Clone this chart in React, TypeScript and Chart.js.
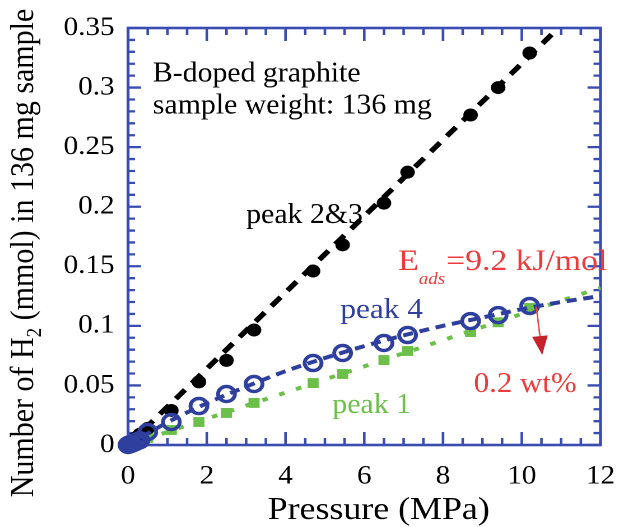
import React, { useEffect, useRef } from 'react';
import { Chart, registerables } from 'chart.js';

Chart.register(...registerables);

// ---------- data ----------
const pressure = [0, 0.05, 0.1, 0.2, 0.3, 0.5, 1.1, 1.8, 2.5, 3.2, 4.7, 5.45, 6.5, 7.1, 8.7, 9.4, 10.2];
const peak23 = [0, 0.0015, 0.003, 0.006, 0.009, 0.014, 0.029, 0.053, 0.071, 0.0965, 0.146, 0.168, 0.203, 0.229, 0.277, 0.3, 0.329];
const peak4 = [0, 0.0006, 0.0012, 0.0025, 0.004, 0.0109, 0.0193, 0.0327, 0.0428, 0.0512, 0.0688, 0.0772, 0.0856, 0.0923, 0.104, 0.109, 0.1167];
const peak1 = [0, 0.0005, 0.001, 0.002, 0.003, 0.006, 0.0126, 0.0193, 0.0269, 0.0353, 0.052, 0.0596, 0.0713, 0.0789, 0.0948, 0.103, 0.115];

const fitPressure = [0, 1, 2, 3, 4, 5, 6, 7, 8, 9, 10, 11, 12];
const fitPeak4 = [0, 0.019, 0.035, 0.049, 0.062, 0.073, 0.083, 0.092, 0.1, 0.107, 0.114, 0.12, 0.125];
const fitPeak1 = [0, 0.011, 0.022, 0.033, 0.044, 0.055, 0.066, 0.077, 0.088, 0.099, 0.11, 0.121, 0.132];
const fitPeak23Pressure = [0, 10.9];
const fitPeak23 = [0, 0.349];

const xTickValues = [0, 2, 4, 6, 8, 10, 12];
const xTickLabels = ['0', '2', '4', '6', '8', '10', '12'];
const yTickValues = [0, 0.05, 0.1, 0.15, 0.2, 0.25, 0.3, 0.35];
const yTickLabels = ['0', '0.05', '0.1', '0.15', '0.2', '0.25', '0.3', '0.35'];

const xTitle = 'Pressure (MPa)';
const yTitleParts = ['Number of H', '2', ' (mmol) in 136 mg sample'];

// ---------- styles ----------
const FONT = '"Liberation Serif", serif';
const STRETCH = 1.12;
const W = 633;
const H = 527;
const IW = Math.round(W / STRETCH);
const BLUE = '#2f3f9e';
const FRAME = '#3a4cb0';
const GREEN = '#6cc04a';
const BLACK = '#000000';
const RED = '#ee3a3a';
const DARKRED = '#c8222a';

Chart.defaults.font.family = FONT;

const toXY = (xs: number[], ys: number[]) => xs.map((x, i) => ({ x, y: ys[i] }));

// draw text with an extra horizontal squeeze factor k
const drawText = (ctx: any, text: string, x: number, y: number, font: string, color: string, k = 1) => {
  ctx.save();
  ctx.translate(x, y);
  ctx.scale(k, 1);
  ctx.font = font;
  ctx.fillStyle = color;
  ctx.textAlign = 'left';
  ctx.textBaseline = 'alphabetic';
  ctx.fillText(text, 0, 0);
  const w = ctx.measureText(text).width * k;
  ctx.restore();
  return w;
};

const framePlugin = {
  id: 'frame',
  beforeDatasetsDraw(chart: any) {
    const { ctx, chartArea: a, scales } = chart;
    const xs = scales.x;
    const ys = scales.y;
    ctx.save();
    ctx.strokeStyle = FRAME;
    ctx.lineWidth = 2.6;
    ctx.strokeRect(a.left, a.top, a.right - a.left, a.bottom - a.top);
    ctx.lineWidth = 2.3;
    ctx.beginPath();
    for (let i = 0; i <= 24; i++) {
      const v = i * 0.5;
      const px = xs.getPixelForValue(v);
      const len = i % 4 === 0 ? 13 : 7;
      ctx.moveTo(px, a.bottom);
      ctx.lineTo(px, a.bottom - len);
      ctx.moveTo(px, a.top);
      ctx.lineTo(px, a.top + len);
    }
    for (let i = 0; i <= 35; i++) {
      const v = i * 0.01;
      const py = ys.getPixelForValue(v);
      const len = (i % 5 === 0 ? 13 : 7) / STRETCH;
      ctx.moveTo(a.left, py);
      ctx.lineTo(a.left + len, py);
      ctx.moveTo(a.right, py);
      ctx.lineTo(a.right - len, py);
    }
    ctx.stroke();
    ctx.restore();
  },
};

const textPlugin = {
  id: 'texts',
  afterDatasetsDraw(chart: any) {
    const { ctx, scales } = chart;
    const X = (v: number) => scales.x.getPixelForValue(v);
    const Y = (v: number) => scales.y.getPixelForValue(v);
    const f28 = `28px ${FONT}`;

    drawText(ctx, 'B-doped graphite', X(0.63), Y(0.305), f28, BLACK, 0.95);
    drawText(ctx, 'sample weight: 136 mg', X(0.63), Y(0.2783), f28, BLACK, 0.95);
    drawText(ctx, 'peak 2&3', X(3.0), Y(0.1865), f28, BLACK, 0.95);
    drawText(ctx, 'peak 4', X(5.39), Y(0.1066), f28, BLUE, 1);
    drawText(ctx, 'peak 1', X(5.19), Y(0.0269), f28, GREEN, 0.95);

    // E_ads = 9.2 kJ/mol
    let ex = X(6.86);
    const ey = Y(0.1469);
    ex += drawText(ctx, 'E', ex, ey, `30px ${FONT}`, RED, 1);
    ex += drawText(ctx, 'ads', ex, ey + 14, `italic 17px ${FONT}`, RED, 1) + 1;
    drawText(ctx, '=9.2 kJ/mol', ex, ey, `30px ${FONT}`, RED, 1);

    drawText(ctx, '0.2 wt%', X(8.78), Y(0.0445), `29px ${FONT}`, RED, 0.95);

    // arrow
    ctx.save();
    const tx = X(10.37), ty = Y(0.1158);
    const hx = X(10.52), hy = Y(0.0755);
    const dx = hx - tx, dy = hy - ty;
    const L = Math.hypot(dx, dy);
    const ux = dx / L, uy = dy / L;
    const headLen = 19;
    const bx = hx - ux * headLen, by = hy - uy * headLen;
    ctx.strokeStyle = '#e0504a';
    ctx.lineWidth = 1.4;
    ctx.beginPath();
    ctx.moveTo(tx, ty);
    ctx.lineTo(bx, by);
    ctx.stroke();
    ctx.fillStyle = DARKRED;
    ctx.beginPath();
    ctx.moveTo(hx, hy);
    ctx.lineTo(bx - uy * 7, by + ux * 7);
    ctx.lineTo(bx + uy * 7, by - ux * 7);
    ctx.closePath();
    ctx.fill();
    ctx.restore();

    // axis titles
    ctx.save();
    ctx.fillStyle = BLACK;
    ctx.font = `32px ${FONT}`;
    ctx.textAlign = 'center';
    ctx.textBaseline = 'alphabetic';
    ctx.fillText(xTitle, 338, 519);

    ctx.textAlign = 'left';
    ctx.translate(29.5, 253);
    ctx.rotate(-Math.PI / 2);
    const big = `30px ${FONT}`;
    const small = `19px ${FONT}`;
    ctx.font = big;
    const wa = ctx.measureText(yTitleParts[0]).width;
    const wc = ctx.measureText(yTitleParts[2]).width;
    ctx.font = small;
    const wb = ctx.measureText(yTitleParts[1]).width;
    let x0 = -(wa + wb + wc) / 2;
    ctx.font = big;
    ctx.fillText(yTitleParts[0], x0, 0);
    x0 += wa;
    ctx.font = small;
    ctx.fillText(yTitleParts[1], x0, 7);
    x0 += wb;
    ctx.font = big;
    ctx.fillText(yTitleParts[2], x0, 0);
    ctx.restore();
  },
};

export default function App() {
  const ref = useRef<HTMLCanvasElement | null>(null);

  useEffect(() => {
    if (!ref.current) return;
    const chart = new Chart(ref.current, {
      type: 'line',
      data: {
        datasets: [
          {
            label: 'peak 4',
            data: toXY(pressure, peak4),
            showLine: false,
            pointStyle: 'circle',
            pointRadius: 7.5,
            pointBorderWidth: 3.5,
            borderColor: BLUE,
            backgroundColor: 'rgba(255,255,255,0)',
            pointBackgroundColor: (c: any) => (c.raw && c.raw.x < 0.15 ? BLUE : 'rgba(255,255,255,0)'),
            clip: false,
          },
          {
            label: 'peak 4 fit',
            data: toXY(fitPressure, fitPeak4),
            borderColor: BLUE,
            borderWidth: 4,
            borderDash: [9, 6],
            pointRadius: 0,
            cubicInterpolationMode: 'monotone',
            clip: false,
          },
          {
            label: 'peak 2&3',
            data: toXY(pressure, peak23),
            showLine: false,
            pointStyle: 'circle',
            pointRadius: 6.5,
            pointBorderWidth: 0,
            backgroundColor: BLACK,
            borderColor: BLACK,
            clip: false,
          },
          {
            label: 'peak 2&3 fit',
            data: toXY(fitPeak23Pressure, fitPeak23),
            borderColor: BLACK,
            borderWidth: 5,
            borderDash: [12, 9],
            pointRadius: 0,
            clip: false,
          },
          {
            label: 'peak 1',
            data: toXY(pressure, peak1),
            showLine: false,
            pointStyle: 'rect',
            pointRadius: 7,
            pointBorderWidth: 0,
            backgroundColor: GREEN,
            borderColor: GREEN,
            clip: false,
          },
          {
            label: 'peak 1 fit',
            data: toXY(fitPressure, fitPeak1),
            borderColor: GREEN,
            borderWidth: 4,
            borderDash: [5, 11],
            pointRadius: 0,
            clip: false,
          },
        ],
      },
      options: {
        responsive: false,
        animation: false,
        devicePixelRatio: 2,
        events: [],
        layout: { padding: { left: 0, top: 28, right: IW - Math.round(607 / STRETCH), bottom: 0 } },
        plugins: { legend: { display: false }, tooltip: { enabled: false }, title: { display: false } },
        scales: {
          x: {
            type: 'linear',
            position: 'bottom',
            min: 0,
            max: 12,
            grid: { display: false, drawTicks: false },
            border: { display: false },
            ticks: {
              padding: 16,
              color: BLACK,
              font: { family: FONT, size: 26 },
              maxRotation: 0,
              autoSkip: false,
              callback: (_v: any, i: number) => xTickLabels[i],
            },
            afterBuildTicks: (s: any) => {
              s.ticks = xTickValues.map((v) => ({ value: v }));
            },
            afterFit: (s: any) => {
              s.height = H - 445;
            },
          },
          y: {
            type: 'linear',
            position: 'left',
            min: 0,
            max: 0.35,
            grid: { display: false, drawTicks: false },
            border: { display: false },
            ticks: {
              padding: 12,
              color: BLACK,
              font: { family: FONT, size: 26 },
              autoSkip: false,
              callback: (_v: any, i: number) => yTickLabels[i],
            },
            afterBuildTicks: (s: any) => {
              s.ticks = yTickValues.map((v) => ({ value: v }));
            },
            afterFit: (s: any) => {
              s.width = 128 / STRETCH;
            },
          },
        },
      },
      plugins: [framePlugin, textPlugin],
    });
    return () => chart.destroy();
  }, []);

  return (
    <div style={{ position: 'fixed', left: 0, top: 0, width: W, height: H, background: '#fff' }}>
      <canvas ref={ref} width={IW} height={H} style={{ width: `${W}px`, height: `${H}px`, display: 'block' }} />
    </div>
  );
}
